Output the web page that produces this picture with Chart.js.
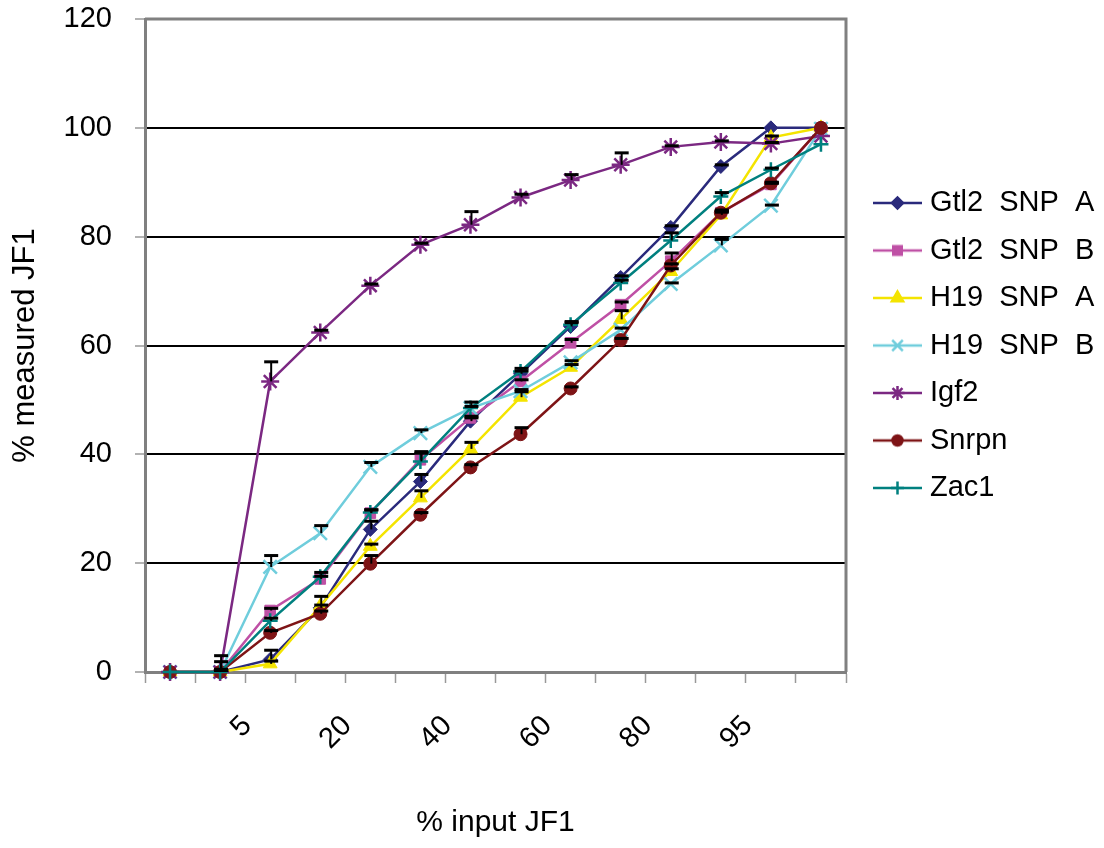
<!DOCTYPE html>
<html>
<head>
<meta charset="utf-8">
<script src="https://cdn.jsdelivr.net/npm/chart.js@4.4.1/dist/chart.umd.min.js"></script>
<style>
html,body{margin:0;padding:0;background:#ffffff;}
#wrap{width:1104px;height:848px;}
</style>
</head>
<body>
<div id="wrap"><canvas id="c" width="1104" height="848"></canvas></div>
<script>
// ---- data ----
const categories = ['', '', '5', '', '20', '', '40', '', '60', '', '80', '', '95', ''];
const yTicks = [0, 20, 40, 60, 80, 100, 120];
const seriesNames = ['Gtl2 SNP A', 'Gtl2 SNP B', 'H19 SNP A', 'H19 SNP B', 'Igf2', 'Snrpn', 'Zac1'];

const gtl2SnpA = [0, 0, 2.3, 11.8, 26.2, 35.0, 46.1, 54.8, 63.5, 72.5, 81.7, 92.9, 100, 100];
const gtl2SnpB = [0, 0, 11.3, 17.1, 29.2, 39.0, 46.7, 53.4, 60.5, 67.5, 75.5, 84.4, 89.6, 100];
const h19SnpA  = [0, 0, 1.5, 12.1, 23.1, 32.0, 41.0, 50.5, 56.0, 64.8, 73.6, 84.0, 98.2, 100];
const h19SnpB  = [0, 0, 19.3, 25.5, 37.7, 43.9, 48.5, 51.6, 56.9, 62.9, 71.3, 78.4, 85.7, 99.8];
const igf2     = [0, 0, 53.4, 62.4, 71.0, 78.5, 82.2, 87.2, 90.4, 93.2, 96.5, 97.4, 97.1, 98.5];
const snrpn    = [0, 0, 7.2, 10.7, 19.9, 28.9, 37.6, 43.7, 52.1, 61.0, 74.7, 84.4, 89.8, 100];
const zac1     = [0, 0, 9.4, 17.5, 29.3, 38.7, 48.5, 55.2, 63.8, 71.5, 79.3, 87.4, 92.3, 97.0];

// upper error bars
const gtl2SnpAErr = [0, 1.9, 1.7, 0.5, 1.5, 1.3, 0.6, 0.5, 0.7, 0.3, 0.3, 0.3, 0, 0];
const gtl2SnpBErr = [0, 0.5, 0.4, 0.5, 0.6, 1.5, 0.3, 0.3, 0.6, 0.5, 1.5, 0.5, 0.2, 0];
const h19SnpAErr  = [0, 0.3, 0.5, 1.8, 0.4, 1.3, 1.2, 1.0, 0.5, 1.6, 0.5, 0.5, 0.3, 0];
const h19SnpBErr  = [0, 0.3, 2.1, 1.4, 0.8, 0.6, 0.3, 0.3, 0.3, 0.3, 0.2, 1.1, 0.1, 0];
const igf2Err     = [0, 3.0, 3.6, 0.4, 0.3, 0.3, 2.4, 0.6, 1.0, 2.2, 0.2, 0.2, 0.2, 0];
const snrpnErr    = [0, 0.3, 0.4, 0.5, 1.5, 0.4, 0.5, 1.2, 0.3, 0.3, 0.3, 0.3, 0.2, 0];
const zac1Err     = [0, 0.3, 0.5, 0.8, 0.5, 1.5, 1.1, 0.6, 0.6, 0.5, 1.4, 0.7, 0.3, 0];

// ---- styles ----
const seriesValues = [gtl2SnpA, gtl2SnpB, h19SnpA, h19SnpB, igf2, snrpn, zac1];
const seriesErrors = [gtl2SnpAErr, gtl2SnpBErr, h19SnpAErr, h19SnpBErr, igf2Err, snrpnErr, zac1Err];
const seriesColors = ['#2A2A7C', '#BF50A5', '#F4E400', '#6FCDDC', '#7B2882', '#7E1416', '#00807F'];
const seriesMarkers = ['rectRot', 'rect', 'triangle', 'crossRot', 'star', 'circle', 'cross'];
const markerRadius = [7, 7.5, 8, 9.5, 9, 6.5, 7.5];
const legendRadius = [5.5, 6, 6.5, 7.5, 7, 5, 6.5];

const FONT = "'Liberation Sans', Arial, sans-serif";
Chart.defaults.font.family = FONT;
Chart.defaults.color = '#000000';

function makeLegendImage(i) {
  const c = document.createElement('canvas');
  c.width = 64; c.height = 24;
  const g = c.getContext('2d');
  g.strokeStyle = seriesColors[i];
  g.lineWidth = 2.5;
  g.beginPath(); g.moveTo(15, 12); g.lineTo(64, 12); g.stroke();
  g.fillStyle = seriesColors[i];
  g.strokeStyle = seriesColors[i];
  g.lineWidth = 2.5;
  Chart.helpers.drawPoint(g, {pointStyle: seriesMarkers[i], radius: legendRadius[i], borderWidth: 2.5, rotation: 0}, 39.5, 12);
  return c;
}
const legendImages = seriesNames.map((_, i) => makeLegendImage(i));

const datasets = seriesNames.map((name, i) => ({
  label: name,
  data: seriesValues[i],
  errorPlus: seriesErrors[i],
  borderColor: seriesColors[i],
  backgroundColor: seriesColors[i],
  borderWidth: 2.5,
  pointStyle: seriesMarkers[i],
  pointRadius: markerRadius[i],
  pointBorderWidth: (seriesMarkers[i] === 'cross' || seriesMarkers[i] === 'crossRot' || seriesMarkers[i] === 'star') ? 2.5 : 1,
  pointBackgroundColor: seriesColors[i],
  pointBorderColor: seriesColors[i],
  tension: 0,
  clip: false,
  order: seriesNames.length - i
}));

const errorBarPlugin = {
  id: 'errorBars',
  afterDatasetsDraw(chart) {
    const ctx = chart.ctx;
    const ys = chart.scales.y;
    chart.data.datasets.forEach((ds, di) => {
      const meta = chart.getDatasetMeta(di);
      if (!ds.errorPlus || meta.hidden) return;
      meta.data.forEach((pt, i) => {
        const e = ds.errorPlus[i];
        if (!e) return;
        const v = ds.data[i];
        const x = pt.x;
        const y0 = ys.getPixelForValue(v);
        const y1 = ys.getPixelForValue(v + e);
        ctx.save();
        ctx.strokeStyle = '#000000';
        ctx.lineWidth = 2;
        ctx.beginPath(); ctx.moveTo(x + 1, y0); ctx.lineTo(x + 1, y1); ctx.stroke();
        ctx.lineWidth = 3;
        ctx.beginPath(); ctx.moveTo(x - 6, y1); ctx.lineTo(x + 8, y1); ctx.stroke();
        ctx.restore();
      });
    });
  }
};

const frameBorderPlugin = {
  id: 'frameBorder',
  beforeDatasetsDraw(chart) {
    const a = chart.chartArea;
    const ctx = chart.ctx;
    ctx.save();
    ctx.strokeStyle = '#808080';
    ctx.lineWidth = 3;
    ctx.beginPath();
    ctx.moveTo(a.left, a.top);
    ctx.lineTo(a.right, a.top);
    ctx.lineTo(a.right, a.bottom);
    ctx.stroke();
    ctx.restore();
  }
};

const LEGEND_WIDTH = 258;
const legendWidthPlugin = {
  id: 'legendWidth',
  afterInit(chart) {
    const lg = chart.legend;
    if (!lg) return;
    const origFit = lg.fit.bind(lg);
    lg.fit = function () { origFit(); this.width = LEGEND_WIDTH; };
    const origDraw = lg.draw.bind(lg);
    lg.draw = function () {
      const ctx = this.ctx;
      const prev = ctx.wordSpacing;
      ctx.wordSpacing = '8px';
      origDraw();
      ctx.wordSpacing = prev || '0px';
    };
  }
};

new Chart(document.getElementById('c'), {
  type: 'line',
  data: { labels: categories, datasets },
  plugins: [legendWidthPlugin, frameBorderPlugin, errorBarPlugin],
  options: {
    responsive: false,
    animation: false,
    devicePixelRatio: 1,
    layout: { padding: { top: 19, left: 0, right: 0, bottom: 0 } },
    scales: {
      x: {
        type: 'category',
        offset: true,
        grid: { offset: true, drawOnChartArea: false, drawTicks: true, tickLength: 11, tickColor: '#999999', tickWidth: 1.5 },
        border: { color: '#808080', width: 3 },
        ticks: {
          autoSkip: false, minRotation: 45, maxRotation: 45, padding: 26, labelOffset: -23,
          font: { size: 29, family: FONT }, color: '#000000'
        },
        title: { display: true, text: '% input JF1', font: { size: 30, family: FONT }, color: '#000000', padding: { top: 0, bottom: 7 } },
        afterFit(s) { s.height = 176; s.paddingLeft = 0; s.paddingRight = 0; }
      },
      y: {
        min: yTicks[0], max: yTicks[yTicks.length - 1],
        afterBuildTicks(s) { s.ticks = yTicks.map(v => ({ value: v })); },
        grid: {
          color: (c) => (c.tick && (c.tick.value === 0 || c.tick.value === 120)) ? 'rgba(0,0,0,0)' : '#000000',
          lineWidth: 2, drawTicks: true, tickLength: 10, tickColor: '#999999', tickWidth: 1.5
        },
        border: { color: '#808080', width: 3 },
        ticks: { padding: 23, font: { size: 29, family: FONT }, color: '#000000' },
        title: { display: true, text: '% measured JF1', font: { size: 31, family: FONT }, color: '#000000', padding: { top: 7, bottom: 0 } },
        afterFit(s) { s.width = 145; s.paddingTop = 0; s.paddingBottom = 0; }
      }
    },
    plugins: {
      legend: {
        position: 'right',
        align: 'center',
        fullSize: false,
        labels: {
          usePointStyle: true,
          pointStyleWidth: 51,
          padding: 18.5,
          font: { size: 29, family: FONT },
          color: '#000000',
          sort: (a, b) => a.datasetIndex - b.datasetIndex,
          generateLabels(chart) {
            const items = Chart.defaults.plugins.legend.labels.generateLabels(chart);
            items.forEach(it => { it.pointStyle = legendImages[it.datasetIndex]; });
            return items;
          }
        }
      },
      tooltip: { enabled: false }
    }
  }
});
</script>
</body>
</html>
